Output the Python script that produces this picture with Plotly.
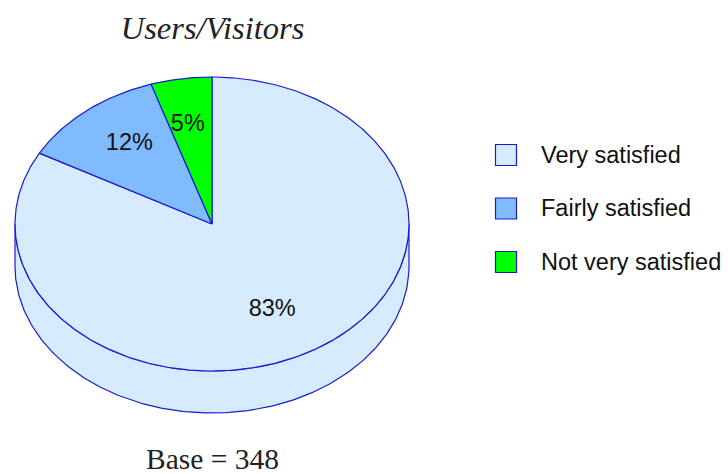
import numpy as np
import plotly.graph_objects as go

categories = ["Very satisfied", "Fairly satisfied", "Not very satisfied"]
percentages = [83, 12, 5]
base_count = 348
chart_title = "Users/Visitors"

colors = ["#D6EBFF", "#80BBFF", "#00FF00"]
edge = "#1A1AD0"
CX, CY, RX, RY, DEPTH = 212, 224, 197, 147, 42
label_radius = [0.62, 0.69, 0.72]
label_dx = [-2, 4, -2]
label_dy = [8, -2, 6]
SANS = "Liberation Sans, Arial, sans-serif"
SERIF = "Liberation Serif, Times New Roman, serif"


def ell(theta, dy=0):
    return CX + RX * np.sin(theta), CY - RY * np.cos(theta) + dy


fig = go.Figure()

# side wall of the cylinder
t = np.linspace(np.pi / 2, 3 * np.pi / 2, 200)
x_up, y_up = ell(t)
x_lo, y_lo = ell(t, DEPTH)
fig.add_trace(go.Scatter(
    x=np.r_[x_up, x_lo[::-1], x_up[0]], y=np.r_[y_up, y_lo[::-1], y_up[0]],
    mode="lines", fill="toself", fillcolor=colors[0],
    line=dict(color=edge, width=1.2), hoverinfo="skip", showlegend=False))

# top face wedges
total = sum(percentages)
start = 0.0
label_x, label_y = [], []
for value, color, lr, dx, dy in zip(percentages, colors, label_radius, label_dx, label_dy):
    sweep = 2 * np.pi * value / total
    t = np.linspace(start, start + sweep, max(int(value * 6), 30))
    x, y = ell(t)
    fig.add_trace(go.Scatter(
        x=np.r_[CX, x, CX], y=np.r_[CY, y, CY],
        mode="lines", fill="toself", fillcolor=color,
        line=dict(color=edge, width=1.2), hoverinfo="skip", showlegend=False))
    mid = start + sweep / 2
    label_x.append(CX + RX * lr * np.sin(mid) + dx)
    label_y.append(CY - RY * lr * np.cos(mid) + dy)
    start += sweep

fig.add_trace(go.Scatter(
    x=label_x, y=label_y, mode="text", text=[f"{v}%" for v in percentages],
    textposition="middle center",
    textfont=dict(family=SANS, size=23.5, color="#111111"),
    hoverinfo="skip", showlegend=False))

# legend drawn as swatches plus labels
legend_y = [155, 208.5, 262]
fig.add_trace(go.Scatter(
    x=[506] * len(categories), y=legend_y, mode="markers",
    marker=dict(symbol="square", size=21, color=colors,
                line=dict(color=edge, width=1.2)),
    hoverinfo="skip", showlegend=False))
fig.add_trace(go.Scatter(
    x=[541] * len(categories), y=[v + 2 for v in legend_y], mode="text", text=categories,
    textposition="middle right",
    textfont=dict(family=SANS, size=23.5, color="#111111"),
    hoverinfo="skip", showlegend=False))

fig.update_layout(
    width=728, height=474, autosize=False,
    margin=dict(l=0, r=0, t=0, b=0),
    paper_bgcolor="white", plot_bgcolor="white",
    xaxis=dict(range=[0, 728], visible=False, fixedrange=True),
    yaxis=dict(range=[474, 0], visible=False, fixedrange=True),
    title=dict(text=f"<i>{chart_title}</i>", x=212.5 / 728, xanchor="center",
               y=1 - 28 / 474, yanchor="middle",
               font=dict(family=SERIF, size=32.5, color="#222222")),
    annotations=[dict(text=f"Base = {base_count}", x=212.5, y=459, xref="x", yref="y",
                      showarrow=False, xanchor="center", yanchor="middle",
                      font=dict(family=SERIF, size=29.5, color="#222222"))],
)
fig.write_html("out.html", config={"displayModeBar": False},
               post_script="document.body.style.margin='0';document.documentElement.style.overflow='hidden';")
